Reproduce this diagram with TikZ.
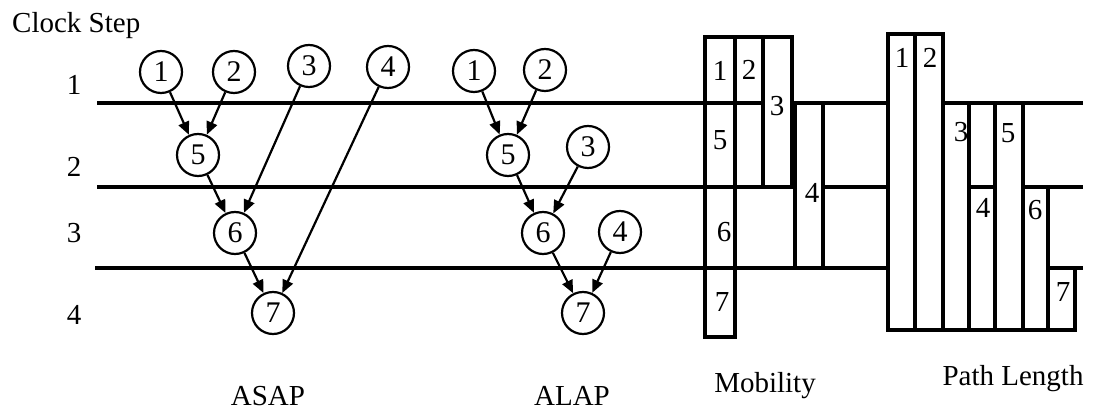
\documentclass[tikz,border=0pt]{standalone}
\usepackage{fontspec}
\setmainfont{Liberation Serif}
\usetikzlibrary{arrows.meta}
\begin{document}
\begin{tikzpicture}[x=1pt,y=-1pt,
  txt/.style={font=\fontsize{29}{34}\selectfont, inner sep=0pt},
  op/.style={circle, draw, line width=2.2pt, minimum size=42pt, inner sep=0pt,
             font=\fontsize{30}{34}\selectfont},
  dep/.style={line width=2.2pt, -{Triangle[length=13pt,width=11pt]}},
  clk/.style={line width=3.2pt},
  bar/.style={draw, fill=white, line width=3.2pt},
  num/.style={font=\fontsize{29}{34}\selectfont, inner sep=0pt}]

\useasboundingbox (0,0) rectangle (1097,411);

% clock step boundaries
\coordinate (l1a) at (97,103);  \coordinate (l1b) at (1083,103);
\coordinate (l2a) at (97,187);  \coordinate (l2b) at (1083,187);
\coordinate (l3a) at (95,268);  \coordinate (l3b) at (1083,268);
\draw[clk] (l1a) -- (l1b);
\draw[clk] (l2a) -- (l2b);
\draw[clk] (l3a) -- (l3b);

% heading and step numbers
\node[txt, anchor=base west] (head) at (12,33) {Clock Step};
\node[txt, anchor=base] (r1) at (74,95) {1};
\node[txt, anchor=base] (r2) at (74,177) {2};
\node[txt, anchor=base] (r3) at (74,243) {3};
\node[txt, anchor=base] (r4) at (74,325) {4};

% ASAP schedule
\node[op] (s1) at (161,72) {1};
\node[op] (s2) at (234,72) {2};
\node[op] (s3) at (309,66) {3};
\node[op] (s4) at (388,67) {4};
\node[op] (s5) at (198,155) {5};
\node[op] (s6) at (235,233) {6};
\node[op] (s7) at (273,313) {7};
\draw[dep] (s1) -- (s5);
\draw[dep] (s2) -- (s5);
\draw[dep] (s5) -- (s6);
\draw[dep] (s3) -- (s6);
\draw[dep] (s6) -- (s7);
\draw[dep] (s4) -- (s7);
\node[txt, anchor=base] (asap) at (268,405) {ASAP};

% ALAP schedule
\node[op] (a1) at (474,71) {1};
\node[op] (a2) at (545,70) {2};
\node[op] (a5) at (508,155) {5};
\node[op] (a3) at (588,147) {3};
\node[op] (a6) at (543,233) {6};
\node[op] (a4) at (620,232) {4};
\node[op] (a7) at (583,313) {7};
\draw[dep] (a1) -- (a5);
\draw[dep] (a2) -- (a5);
\draw[dep] (a5) -- (a6);
\draw[dep] (a3) -- (a6);
\draw[dep] (a6) -- (a7);
\draw[dep] (a4) -- (a7);
\node[txt, anchor=base] (alap) at (572,405) {ALAP};

% mobility ranges
\draw[bar] (705,37) rectangle (735,103);
\draw[bar] (705,103) rectangle (735,187);
\draw[bar] (705,187) rectangle (735,268);
\draw[bar] (705,268) rectangle (735,337);
\draw[bar] (735,37) rectangle (763,103);
\draw[bar] (763,37) rectangle (792,187);
\draw[bar] (795,103) rectangle (823,268);
\node[num] (m1) at (720,71) {1};
\node[num] (m2) at (749,70) {2};
\node[num] (m3) at (777,106) {3};
\node[num] (m5) at (720,140) {5};
\node[num] (m4) at (812,193) {4};
\node[num] (m6) at (724,232) {6};
\node[num] (m7) at (722,302) {7};
\node[txt, anchor=base] (mob) at (765,392) {Mobility};

% path length bars
\draw[bar] (888,34) rectangle (915,330);
\draw[bar] (915,34) rectangle (943,330);
\draw[bar] (943,103) rectangle (969,330);
\draw[bar] (969,187) rectangle (995,330);
\draw[bar] (995,103) rectangle (1023,330);
\draw[bar] (1023,187) rectangle (1048,330);
\draw[bar] (1048,268) rectangle (1075,330);
\node[num] (p1) at (902,58) {1};
\node[num] (p2) at (930,58) {2};
\node[num] (p3) at (961,132) {3};
\node[num] (p5) at (1008,133) {5};
\node[num] (p4) at (983,208) {4};
\node[num] (p6) at (1035,210) {6};
\node[num] (p7) at (1063,292) {7};
\node[txt, anchor=base] (plen) at (1013,385) {Path Length};
\end{tikzpicture}
\end{document}
